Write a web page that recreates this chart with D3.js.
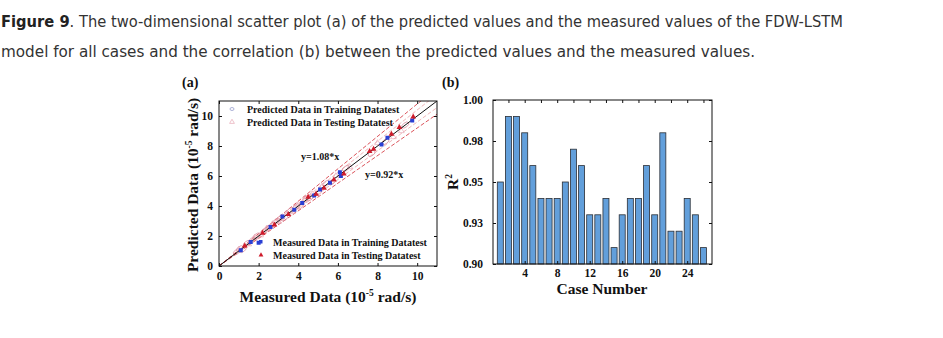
<!DOCTYPE html>
<html>
<head>
<meta charset="utf-8">
<script src="https://cdn.jsdelivr.net/npm/d3@7"></script>
<style>
  body { margin: 0; background: #fff; }
  .serif { font-family: "Liberation Serif", "Times New Roman", serif; font-weight: bold; fill: #111; }
  .cap { font-family: "Liberation Sans Narrow", "DejaVu Sans Condensed", "Roboto", sans-serif; font-size: 15px; fill: #333; }
</style>
</head>
<body>
<div id="chart"></div>
<script>
// Panel (a): points, [measured, predicted]
var trainMeasured = [[1.1,1.05],[1.6,1.6],[2.0,1.55],[2.6,2.6],[3.2,3.3],[3.8,3.75],[4.2,4.2],[4.8,4.7],[5.1,5.1],[5.6,5.55],[6.1,6.25],[6.15,6.0],[8.2,8.1],[8.5,8.55],[9.75,9.7]]
var testMeasured = [[1.3,1.35],[2.2,2.2],[2.8,2.75],[3.5,3.45],[4.5,4.6],[4.9,4.8],[5.3,5.2],[5.8,5.75],[6.3,6.15],[7.6,7.65],[7.8,7.8],[8.7,8.8],[9.1,9.25],[9.8,9.95]]
var trainPredicted = [[0.9,0.95],[1.05,1.15],[1.2,1.1],[1.4,1.5],[1.7,1.75],[1.9,2.0],[2.3,2.35],[2.5,2.55],[2.9,3.0],[3.1,3.2],[3.3,3.2],[3.6,3.7],[3.9,3.95],[4.1,4.0],[4.4,4.5],[4.6,4.55],[5.0,4.9],[5.4,5.5],[5.7,5.6],[6.4,6.5],[7.7,7.5],[8.4,8.3],[9.4,9.4]]
var testPredicted = [[1.0,1.1],[1.5,1.45],[1.8,1.9],[2.1,2.05],[2.4,2.5],[2.7,2.8],[3.0,2.95],[3.4,3.5],[3.7,3.6],[4.0,4.1],[4.3,4.35],[4.7,4.8],[5.2,5.3],[5.9,6.0],[6.6,6.6],[8.0,8.2],[8.8,8.6],[9.2,9.0]]
var boundSlopes = [1.08, 1.04, 0.96, 0.92]
var axisTicksA = [0, 2, 4, 6, 8, 10]

// Panel (b): R^2 per case
var caseNumbers = d3.range(1, 27)
var r2Values = [0.950, 0.990, 0.990, 0.980, 0.960, 0.940, 0.940, 0.940, 0.950, 0.970, 0.960, 0.930, 0.930,
                0.940, 0.910, 0.930, 0.940, 0.940, 0.960, 0.930, 0.980, 0.920, 0.920, 0.940, 0.930, 0.910]
var r2Ticks = [0.90, 0.925, 0.95, 0.975, 1.00]
var r2TickLabels = ["0.90", "0.93", "0.95", "0.98", "1.00"]
var caseTicks = [4, 8, 12, 16, 20, 24]

var svg = d3.select('#chart').append('svg').attr('width', 943).attr('height', 338)

// caption
svg.append('text').attr('class', 'cap').attr('x', 1).attr('y', 27)
    .attr('textLength', 842).attr('lengthAdjust', 'spacingAndGlyphs')
    .call(t => {
        t.append('tspan').attr('font-weight', 'bold').attr('fill', '#222').text('Figure 9')
        t.append('tspan').text('. The two-dimensional scatter plot (a) of the predicted values and the measured values of the FDW-LSTM')
    })
svg.append('text').attr('class', 'cap').attr('x', 1).attr('y', 57)
    .attr('textLength', 754).attr('lengthAdjust', 'spacingAndGlyphs')
    .text('model for all cases and the correlation (b) between the predicted values and the measured values.')

// ---------- panel (a) ----------
var a = { left: 219, right: 437, top: 101, bottom: 266 }
var xa = d3.scaleLinear().domain([0, 11]).range([a.left, a.right])
var ya = d3.scaleLinear().domain([0, 11]).range([a.bottom, a.top])

var ga = svg.append('g')
ga.append('defs').append('clipPath').attr('id', 'clipA').append('rect')
    .attr('x', a.left).attr('y', a.top).attr('width', a.right - a.left).attr('height', a.bottom - a.top)

var plotA = ga.append('g').attr('clip-path', 'url(#clipA)')

// dashed bound lines
plotA.selectAll('line.bound').data(boundSlopes).enter().append('line')
    .attr('class', 'bound')
    .attr('x1', xa(0)).attr('y1', ya(0))
    .attr('x2', xa(11)).attr('y2', d => ya(11 * d))
    .attr('stroke', '#d9434b').attr('stroke-width', d => (d == 1.08 || d == 0.92) ? 1 : 0.7)
    .attr('stroke-dasharray', '4,2').attr('opacity', d => (d == 1.08 || d == 0.92) ? 0.9 : 0.55)

// predicted open markers
plotA.selectAll('circle.tp').data(trainPredicted).enter().append('ellipse')
    .attr('cx', d => xa(d[0])).attr('cy', d => ya(d[1]))
    .attr('rx', 4).attr('ry', 2.2)
    .attr('transform', d => `rotate(-37,${xa(d[0])},${ya(d[1])})`)
    .attr('fill', 'none').attr('stroke', '#d98a9c').attr('stroke-width', 0.7)
plotA.selectAll('path.sp').data(testPredicted).enter().append('path')
    .attr('d', d3.symbol(d3.symbolTriangle, 14))
    .attr('transform', d => `translate(${xa(d[0])},${ya(d[1])})`)
    .attr('fill', 'none').attr('stroke', '#e7a9b6').attr('stroke-width', 0.7)

// y = x
plotA.append('line')
    .attr('x1', xa(0)).attr('y1', ya(0)).attr('x2', xa(11)).attr('y2', ya(11))
    .attr('stroke', '#111').attr('stroke-width', 1)

// measured filled markers
plotA.selectAll('rect.tm').data(trainMeasured).enter().append('rect')
    .attr('x', d => xa(d[0]) - 2).attr('y', d => ya(d[1]) - 2)
    .attr('width', 4).attr('height', 4).attr('fill', '#2a3fd4')
plotA.selectAll('path.sm').data(testMeasured).enter().append('path')
    .attr('d', d3.symbol(d3.symbolTriangle, 14))
    .attr('transform', d => `translate(${xa(d[0])},${ya(d[1])})`)
    .attr('fill', '#cf1b2b')

// frame + axes (ticks inward, mirrored)
ga.append('rect').attr('x', a.left).attr('y', a.top).attr('width', a.right - a.left).attr('height', a.bottom - a.top)
    .attr('fill', 'none').attr('stroke', '#111').attr('stroke-width', 1)

ga.append('g').attr('transform', `translate(0,${a.bottom})`)
    .call(d3.axisBottom(xa).tickValues(axisTicksA).tickSizeInner(-3).tickSizeOuter(0).tickPadding(6))
ga.append('g').attr('transform', `translate(${a.left},0)`)
    .call(d3.axisLeft(ya).tickValues(axisTicksA).tickSizeInner(-3).tickSizeOuter(0).tickPadding(6))
ga.append('g').attr('transform', `translate(0,${a.top})`)
    .call(d3.axisTop(xa).tickValues(axisTicksA).tickSizeInner(-3).tickSizeOuter(0).tickFormat(''))
ga.append('g').attr('transform', `translate(${a.right},0)`)
    .call(d3.axisRight(ya).tickValues(axisTicksA).tickSizeInner(-3).tickSizeOuter(0).tickFormat(''))
ga.selectAll('.domain').remove()
ga.selectAll('.tick text').attr('class', 'serif').attr('font-size', 11.5)
ga.selectAll('.tick line').attr('stroke', '#111')

// legends (a)
var legTop = [["Predicted Data in Training Datatest", 'tp'], ["Predicted Data in Testing Datatest", 'sp']]
legTop.forEach((l, i) => {
    var y = 110 + i * 13
    if (l[1] == 'tp') {
        ga.append('ellipse').attr('cx', 232).attr('cy', y - 1).attr('rx', 2).attr('ry', 1.5)
            .attr('fill', 'none').attr('stroke', '#8b92c7').attr('stroke-width', 0.7)
    } else {
        ga.append('path').attr('d', d3.symbol(d3.symbolTriangle, 10)).attr('transform', `translate(232,${y - 1})`)
            .attr('fill', 'none').attr('stroke', '#e7a9b6').attr('stroke-width', 0.7)
    }
    ga.append('text').attr('class', 'serif').attr('font-size', 10).attr('x', 247).attr('y', y + 3).text(l[0])
})
var legBot = [["Measured Data in Training Datatest", 'tm'], ["Measured Data in Testing Datatest", 'sm']]
legBot.forEach((l, i) => {
    var y = 243 + i * 13
    if (l[1] == 'tm') {
        ga.append('rect').attr('x', 259).attr('y', y - 3).attr('width', 3.5).attr('height', 3.5).attr('fill', '#2a3fd4')
    } else {
        ga.append('path').attr('d', d3.symbol(d3.symbolTriangle, 10)).attr('transform', `translate(261,${y - 1})`)
            .attr('fill', '#cf1b2b')
    }
    ga.append('text').attr('class', 'serif').attr('font-size', 10).attr('x', 273).attr('y', y + 3).text(l[0])
})

ga.append('text').attr('class', 'serif').attr('font-size', 10).attr('x', 301).attr('y', 160).text('y=1.08*x')
ga.append('text').attr('class', 'serif').attr('font-size', 10).attr('x', 365).attr('y', 178).text('y=0.92*x')

// axis titles (a)
ga.append('text').attr('class', 'serif').attr('font-size', 15.5).attr('text-anchor', 'middle')
    .attr('x', 328).attr('y', 302)
    .call(t => {
        t.append('tspan').text('Measured Data (10')
        t.append('tspan').attr('font-size', 9.5).attr('dy', -6).text('-5')
        t.append('tspan').attr('dy', 6).text(' rad/s)')
    })
ga.append('text').attr('class', 'serif').attr('font-size', 15.5).attr('text-anchor', 'middle')
    .attr('transform', 'translate(198,185) rotate(-90)')
    .call(t => {
        t.append('tspan').text('Predicted Data (10')
        t.append('tspan').attr('font-size', 9.5).attr('dy', -6).text('-5')
        t.append('tspan').attr('dy', 6).text('  rad/s)')
    })
svg.append('text').attr('class', 'serif').attr('font-size', 14).attr('x', 182).attr('y', 87).text('(a)')

// ---------- panel (b) ----------
var b = { left: 493, right: 712, top: 100, bottom: 264 }
var xb = d3.scaleLinear().domain([0.1, 27.05]).range([b.left, b.right])
var yb = d3.scaleLinear().domain([0.90, 1.00]).range([b.bottom, b.top])
var barW = (xb(2) - xb(1)) * 0.74

var gb = svg.append('g')
gb.selectAll('rect.bar').data(caseNumbers).enter().append('rect')
    .attr('class', 'bar')
    .attr('x', d => xb(d) - barW / 2).attr('width', barW)
    .attr('y', (d, i) => yb(r2Values[i])).attr('height', (d, i) => yb(0.90) - yb(r2Values[i]))
    .attr('fill', '#629fdb').attr('stroke', '#2b2f36').attr('stroke-width', 0.8)

gb.append('rect').attr('x', b.left).attr('y', b.top).attr('width', b.right - b.left).attr('height', b.bottom - b.top)
    .attr('fill', 'none').attr('stroke', '#111').attr('stroke-width', 1)

var minorCase = d3.range(2, 27, 2)
gb.append('g').attr('transform', `translate(0,${b.bottom})`)
    .call(d3.axisBottom(xb).tickValues(caseTicks).tickSizeInner(-3).tickSizeOuter(0).tickPadding(5))
gb.append('g').attr('transform', `translate(0,${b.top})`)
    .call(d3.axisTop(xb).tickValues(minorCase).tickSizeInner(-3).tickSizeOuter(0).tickFormat(''))
gb.append('g').attr('transform', `translate(${b.left},0)`)
    .call(d3.axisLeft(yb).tickValues(r2Ticks).tickFormat((d, i) => r2TickLabels[i]).tickSizeInner(-3).tickSizeOuter(0).tickPadding(10))
gb.append('g').attr('transform', `translate(${b.right},0)`)
    .call(d3.axisRight(yb).tickValues(r2Ticks).tickSizeInner(-3).tickSizeOuter(0).tickFormat(''))
gb.selectAll('.domain').remove()
gb.selectAll('.tick text').attr('class', 'serif').attr('font-size', 11.5)
gb.selectAll('.tick line').attr('stroke', '#111')

gb.append('text').attr('class', 'serif').attr('font-size', 15.5).attr('text-anchor', 'middle')
    .attr('x', 602).attr('y', 294).text('Case Number')
gb.append('text').attr('class', 'serif').attr('font-size', 15.5).attr('text-anchor', 'middle')
    .attr('transform', 'translate(458,182) rotate(-90)')
    .call(t => {
        t.append('tspan').text('R')
        t.append('tspan').attr('font-size', 9.5).attr('dy', -6).text('2')
    })
svg.append('text').attr('class', 'serif').attr('font-size', 14).attr('x', 442).attr('y', 87).text('(b)')
</script>
</body>
</html>
